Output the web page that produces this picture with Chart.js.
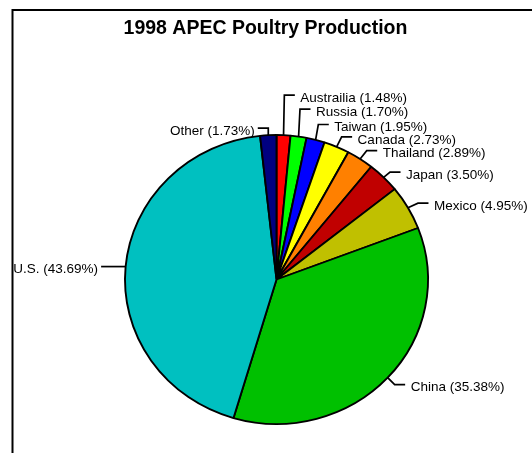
<!DOCTYPE html>
<html><head><meta charset="utf-8">
<script src="https://cdn.jsdelivr.net/npm/chart.js@4"></script>
<style>html,body{margin:0;padding:0;background:#fff}#wrap{width:532px;height:453px;position:relative;overflow:hidden}</style>
</head><body><div id="wrap"><canvas id="c" width="532" height="453"></canvas></div>
<script>
const chartTitle = '1998 APEC Poultry Production';
const categories = ['Austrailia','Russia','Taiwan','Canada','Thailand','Japan','Mexico','China','U.S.','Other'];
const shares = [1.48, 1.70, 1.95, 2.73, 2.89, 3.50, 4.95, 35.38, 43.69, 1.73];
const sliceColors = ['#FF0000','#00FF00','#0000FF','#FFFF00','#FF8000','#C00000','#C0C000','#00C000','#00C0C0','#000080'];
// leader line bend (offset from slice edge) and label side
const leaderBend = [[0.8,-40],[1.4,-27.5],[2.7,-15.4],[5,-10],[6.6,-8.3],[6.4,-5.2],[10,-4.5],[7,7],[-14,0],[0,-7]];
const labelSide = ['r','r','r','r','r','r','r','r','l','l'];
const verticalSquash = 144.5 / 151.5;

const FONT = '"Liberation Sans", Arial, sans-serif';

const decor = {
  id: 'decor',
  beforeDraw(chart) {
    const ctx = chart.ctx;
    ctx.save();
    ctx.fillStyle = '#fff';
    ctx.fillRect(0, 0, chart.width, chart.height);
    ctx.strokeStyle = '#000';
    ctx.lineWidth = 2;
    ctx.strokeRect(12.5, 10, 800, 800);
    ctx.fillStyle = '#000';
    ctx.font = 'bold 19.5px ' + FONT;
    ctx.textAlign = 'center';
    ctx.textBaseline = 'alphabetic';
    ctx.fillText(chartTitle, 265.5, 33.5);
    ctx.restore();
  },
  beforeDatasetsDraw(chart) {
    const ctx = chart.ctx;
    const a = chart.getDatasetMeta(0).data[0];
    ctx.save();
    ctx.translate(a.x, a.y);
    ctx.scale(1, verticalSquash);
    ctx.translate(-a.x, -a.y);
  },
  afterDatasetsDraw(chart) {
    const ctx = chart.ctx;
    ctx.restore();
    const meta = chart.getDatasetMeta(0);
    ctx.save();
    ctx.strokeStyle = '#000';
    ctx.lineWidth = 1.7;
    ctx.fillStyle = '#000';
    ctx.font = '13.5px ' + FONT;
    ctx.textBaseline = 'alphabetic';
    meta.data.forEach((arc, i) => {
      const p = arc.getProps(['x','y','startAngle','endAngle','outerRadius'], true);
      const mid = (p.startAngle + p.endAngle) / 2;
      const sx = p.x + Math.cos(mid) * p.outerRadius;
      const sy = p.y + Math.sin(mid) * p.outerRadius * verticalSquash;
      const ex = sx + leaderBend[i][0];
      const ey = sy + leaderBend[i][1];
      const dir = labelSide[i] === 'l' ? -1 : 1;
      const hx = ex + dir * 10.5;
      ctx.beginPath();
      ctx.moveTo(sx, sy);
      ctx.lineTo(ex, ey);
      ctx.lineTo(hx, ey);
      ctx.stroke();
      const txt = categories[i] + ' (' + shares[i].toFixed(2) + '%)';
      ctx.textAlign = dir < 0 ? 'right' : 'left';
      ctx.fillText(txt, hx + dir * (dir < 0 ? 3 : 5.5), ey + 6.7);
    });
    ctx.restore();
  }
};

new Chart(document.getElementById('c'), {
  type: 'pie',
  data: {
    labels: categories,
    datasets: [{
      data: shares,
      backgroundColor: sliceColors,
      borderColor: '#000',
      borderWidth: 1.9
    }]
  },
  options: {
    responsive: false,
    animation: false,
    devicePixelRatio: 1,
    radius: 151.5,
    layout: { padding: { left: 125, right: 104, top: 128, bottom: 22 } },
    plugins: { legend: { display: false }, tooltip: { enabled: false }, title: { display: false } }
  },
  plugins: [decor]
});
</script>
</body></html>
